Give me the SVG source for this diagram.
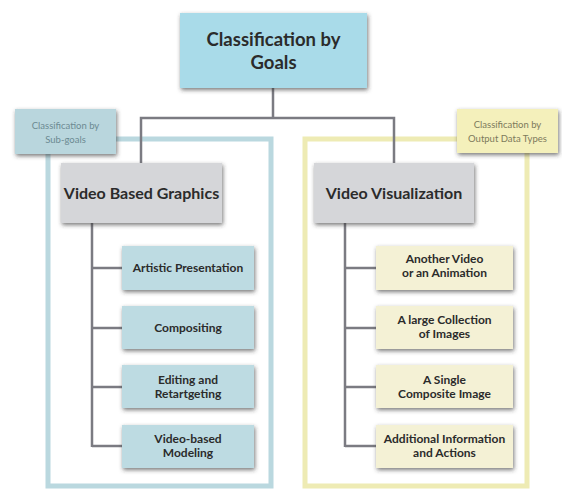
<svg xmlns="http://www.w3.org/2000/svg" width="562" height="490" viewBox="0 0 562 490">
<style>
  .t{font-family:"Lato","Liberation Sans",Arial,sans-serif;font-weight:bold;fill:#2b2b2b;text-anchor:middle}
  .big{font-size:18.5px}
  .mid{font-size:16px}
  .sm{font-size:12px}
  .lbl{font-family:"Lato","Liberation Sans",Arial,sans-serif;font-size:9.5px;text-anchor:middle}
  .conn{fill:none;stroke:#7b7b82;stroke-width:2.5}
  .frameB{fill:none;stroke:#bad8df;stroke-width:5}
  .frameY{fill:none;stroke:#eeebb4;stroke-width:5}
  .box{filter:url(#sh)}
</style>
<defs>
  <filter id="sh" x="-20%" y="-30%" width="140%" height="160%">
    <feDropShadow dx="1" dy="2" stdDeviation="2" flood-color="#333" flood-opacity="0.65"/>
  </filter>
</defs>
<rect width="562" height="490" fill="#fff"/>
<g id="frames">
  <path class="frameB" d="M116,139 H271 V486 H48 V154"/>
  <path class="frameY" d="M457,139 H305 V486 H527 V153"/>
</g>
<g id="connectors">
  <path class="conn" d="M273,88 V118"/>
  <path class="conn" d="M141,163 V118 H394 V163"/>
  <path class="conn" d="M92,223 V447 M92,268 H122 M92,328 H122 M92,387 H122 M92,446 H122"/>
  <path class="conn" d="M345,223 V447 M345,268 H376 M345,328 H376 M345,387 H376 M345,446 H376"/>
</g>
<g id="root">
  <rect class="box" x="180" y="13" width="187" height="75" fill="#a9dbe9"/>
  <text class="t big" x="273.5" y="46">Classification by</text>
  <text class="t big" x="273.5" y="69">Goals</text>
</g>
<g id="subgoals">
  <rect class="box" x="15" y="109" width="101" height="45" fill="#b9d6dd"/>
  <text class="lbl" x="65.5" y="129" fill="#6c8a92">Classification by</text>
  <text class="lbl" x="65.5" y="143" fill="#6c8a92">Sub-goals</text>
</g>
<g id="outputtypes">
  <rect class="box" x="457" y="109" width="101" height="44" fill="#f4f0bb"/>
  <text class="lbl" x="507.5" y="128" fill="#7d7a5c">Classification by</text>
  <text class="lbl" x="507.5" y="142" fill="#7d7a5c">Output Data Types</text>
</g>
<g id="vbg">
  <rect class="box" x="61" y="163" width="161" height="60" fill="#d5d6d9"/>
  <text class="t mid" x="141.5" y="199">Video Based Graphics</text>
</g>
<g id="vv">
  <rect class="box" x="314" y="163" width="160" height="60" fill="#d5d6d9"/>
  <text class="t mid" x="394" y="199">Video Visualization</text>
</g>
<g id="artistic">
  <rect class="box" x="122" y="246" width="132" height="44" fill="#bddbe2"/>
  <text class="t sm" x="188" y="272">Artistic Presentation</text>
</g>
<g id="compositing">
  <rect class="box" x="122" y="306" width="132" height="43" fill="#bddbe2"/>
  <text class="t sm" x="188" y="332">Compositing</text>
</g>
<g id="editing">
  <rect class="box" x="122" y="365" width="132" height="43" fill="#bddbe2"/>
  <text class="t sm" x="188" y="384">Editing and</text>
  <text class="t sm" x="188" y="398">Retartgeting</text>
</g>
<g id="modeling">
  <rect class="box" x="122" y="425" width="132" height="43" fill="#bddbe2"/>
  <text class="t sm" x="188" y="443">Video-based</text>
  <text class="t sm" x="188" y="457">Modeling</text>
</g>
<g id="anothervideo">
  <rect class="box" x="376" y="246" width="137" height="44" fill="#f4f1d5"/>
  <text class="t sm" x="444.5" y="263">Another Video</text>
  <text class="t sm" x="444.5" y="277">or an Animation</text>
</g>
<g id="collection">
  <rect class="box" x="376" y="306" width="137" height="43" fill="#f4f1d5"/>
  <text class="t sm" x="444.5" y="324">A large Collection</text>
  <text class="t sm" x="444.5" y="338">of Images</text>
</g>
<g id="single">
  <rect class="box" x="376" y="365" width="137" height="43" fill="#f4f1d5"/>
  <text class="t sm" x="444.5" y="384">A Single</text>
  <text class="t sm" x="444.5" y="398">Composite Image</text>
</g>
<g id="additional">
  <rect class="box" x="376" y="425" width="137" height="43" fill="#f4f1d5"/>
  <text class="t sm" x="444.5" y="443">Additional Information</text>
  <text class="t sm" x="444.5" y="457">and Actions</text>
</g>
</svg>
